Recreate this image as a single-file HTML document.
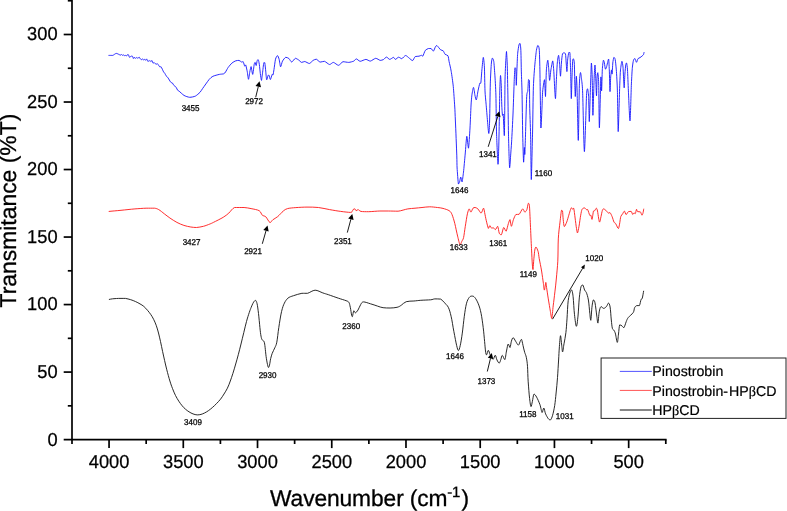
<!DOCTYPE html>
<html lang="en"><head><meta charset="utf-8"><title>FTIR spectra</title>
<style>html,body{margin:0;padding:0;background:#fff}body{width:787px;height:511px;overflow:hidden}svg{display:block}</style>
</head><body>
<svg width="787" height="511" viewBox="0 0 787 511">
<rect width="787" height="511" fill="#fff"/>
<g stroke="#000" stroke-width="1.7" fill="none" stroke-linecap="butt">
<path d="M72.00 0 V444.00"/>
<path d="M63.70 439.60 H666.59"/>
<path d="M63.70 372.08 H72.00"/>
<path d="M63.70 304.57 H72.00"/>
<path d="M63.70 237.05 H72.00"/>
<path d="M63.70 169.53 H72.00"/>
<path d="M63.70 102.02 H72.00"/>
<path d="M63.70 34.50 H72.00"/>
<path d="M67.80 405.84 H72.00"/>
<path d="M67.80 338.33 H72.00"/>
<path d="M67.80 270.81 H72.00"/>
<path d="M67.80 203.29 H72.00"/>
<path d="M67.80 135.78 H72.00"/>
<path d="M67.80 68.26 H72.00"/>
<path d="M67.80 0.74 H72.00"/>
<path d="M109.06 439.60 V448.10"/>
<path d="M183.29 439.60 V448.10"/>
<path d="M257.52 439.60 V448.10"/>
<path d="M331.75 439.60 V448.10"/>
<path d="M405.98 439.60 V448.10"/>
<path d="M480.21 439.60 V448.10"/>
<path d="M554.44 439.60 V448.10"/>
<path d="M628.67 439.60 V448.10"/>
<path d="M146.18 439.60 V444.00"/>
<path d="M220.41 439.60 V444.00"/>
<path d="M294.63 439.60 V444.00"/>
<path d="M368.87 439.60 V444.00"/>
<path d="M443.10 439.60 V444.00"/>
<path d="M517.33 439.60 V444.00"/>
<path d="M591.56 439.60 V444.00"/>
<path d="M665.79 439.60 V444.00"/>
</g>
<g font-family="'Liberation Sans', Arial, sans-serif" font-size="18.3" fill="#000" stroke="#000" stroke-width="0.25" text-rendering="geometricPrecision">
<text transform="translate(57.6 445.50) scale(1 1.02)" text-anchor="end">0</text>
<text transform="translate(57.6 377.98) scale(1 1.02)" text-anchor="end">50</text>
<text transform="translate(57.6 310.47) scale(1 1.02)" text-anchor="end">100</text>
<text transform="translate(57.6 242.95) scale(1 1.02)" text-anchor="end">150</text>
<text transform="translate(57.6 175.43) scale(1 1.02)" text-anchor="end">200</text>
<text transform="translate(57.6 107.92) scale(1 1.02)" text-anchor="end">250</text>
<text transform="translate(57.6 40.40) scale(1 1.02)" text-anchor="end">300</text>
<text transform="translate(109.1 468.25) scale(1 1.02)" text-anchor="middle">4000</text>
<text transform="translate(183.3 468.25) scale(1 1.02)" text-anchor="middle">3500</text>
<text transform="translate(257.5 468.25) scale(1 1.02)" text-anchor="middle">3000</text>
<text transform="translate(331.8 468.25) scale(1 1.02)" text-anchor="middle">2500</text>
<text transform="translate(406.0 468.25) scale(1 1.02)" text-anchor="middle">2000</text>
<text transform="translate(480.2 468.25) scale(1 1.02)" text-anchor="middle">1500</text>
<text transform="translate(554.4 468.25) scale(1 1.02)" text-anchor="middle">1000</text>
<text transform="translate(628.7 468.25) scale(1 1.02)" text-anchor="middle">500</text>
</g>
<g font-family="'Liberation Sans', Arial, sans-serif" fill="#000" stroke="#000" stroke-width="0.3" text-rendering="geometricPrecision">
<text x="270.0" y="506.1" font-size="22.8" letter-spacing="-0.11">Wavenumber (cm<tspan font-size="15" dy="-9.5" dx="-0.3">-1</tspan><tspan dy="9.5" dx="1.2">)</tspan></text>
<text transform="translate(16.0 307.5) rotate(-90)" font-size="22.9">Transmitance (%T)</text>
</g>
<g fill="none" stroke-width="0.92" stroke-linejoin="round" stroke-linecap="round">
<path stroke="#1818ff" d="M108.9 55.4 C109.4 55.4 111.8 55.4 112.7 55.4 C113.6 55.2 115.4 53.4 116.3 53.4 C117.2 53.4 119.8 55.0 120.4 55.1 C121.0 55.1 121.2 54.4 121.4 54.4 C121.6 54.5 122.2 55.3 122.4 55.3 C122.6 55.3 123.2 54.9 123.4 54.9 C123.6 55.0 124.2 55.6 124.4 55.6 C124.6 55.6 125.2 55.4 125.4 55.4 C125.6 55.4 126.2 56.0 126.4 56.0 C126.7 55.9 127.2 54.8 127.4 54.7 C127.7 54.7 128.2 54.7 128.5 54.8 C128.7 55.1 129.2 57.1 129.5 57.3 C129.7 57.3 130.3 56.7 130.5 56.6 C130.7 56.5 131.2 56.1 131.5 56.1 C131.7 56.1 132.2 56.1 132.4 56.2 C132.7 56.5 133.2 58.4 133.4 58.5 C133.6 58.5 134.1 57.2 134.3 57.2 C134.6 57.2 135.1 58.3 135.3 58.4 C135.5 58.4 136.0 57.5 136.3 57.5 C136.5 57.5 137.0 58.1 137.2 58.1 C137.5 58.1 138.0 58.0 138.2 57.9 C138.4 57.8 139.0 57.2 139.2 57.2 C139.5 57.3 140.0 58.5 140.3 58.8 C140.6 59.1 141.1 59.7 141.3 59.7 C141.6 59.7 142.1 59.0 142.4 59.0 C142.7 59.0 143.2 59.8 143.4 59.8 C143.7 59.8 144.2 59.4 144.5 59.4 C144.8 59.4 145.3 60.2 145.6 60.2 C145.8 60.2 146.4 58.9 146.6 58.9 C146.9 59.0 147.4 60.9 147.7 61.2 C148.0 61.2 148.5 61.1 148.8 61.1 C149.0 61.0 149.6 60.6 149.8 60.6 C150.1 60.6 150.6 61.5 150.9 61.5 C151.2 61.5 151.7 60.5 152.0 60.5 C152.2 60.7 152.8 63.0 153.0 63.2 C153.3 63.2 153.8 62.5 154.1 62.5 C154.4 62.5 154.9 63.3 155.2 63.5 C155.4 63.7 156.0 64.3 156.2 64.3 C156.5 64.3 157.0 63.6 157.3 63.6 C157.6 63.7 158.3 64.9 158.6 65.3 C158.9 65.7 159.5 66.7 159.8 66.9 C160.1 66.9 160.6 66.8 161.1 66.8 C161.6 67.4 163.1 71.1 163.6 71.9 C164.1 72.7 164.6 73.0 164.9 73.5 C165.2 74.0 165.8 75.4 166.1 75.8 C166.5 76.2 167.1 76.7 167.4 77.1 C167.7 77.4 168.4 78.4 168.7 78.9 C169.0 79.4 169.7 80.7 170.0 81.1 C170.3 81.6 170.9 82.4 171.2 82.6 C171.6 82.9 172.2 82.8 172.5 83.1 C172.8 83.5 173.5 84.9 173.8 85.3 C174.1 85.7 174.8 85.9 175.1 86.2 C175.4 86.5 176.0 87.3 176.4 87.8 C176.7 88.2 177.3 89.8 177.6 90.2 C177.9 90.6 178.1 90.4 178.9 91.0 C179.7 91.6 182.7 94.6 184.0 95.4 C185.3 96.2 188.3 97.2 189.7 97.3 C191.1 97.3 194.2 96.7 195.4 96.1 C196.6 95.5 199.1 93.2 200.0 92.3 C200.9 91.4 201.6 89.9 202.7 88.4 C203.8 86.9 207.9 81.0 209.1 79.5 C210.3 78.0 211.7 76.9 212.9 76.3 C214.1 75.7 218.0 74.7 219.3 74.4 C220.6 74.1 222.9 74.1 223.7 73.8 C224.5 73.5 225.1 72.7 225.6 71.9 C226.1 71.1 227.4 68.5 228.2 67.4 C229.0 66.3 231.1 63.8 232.0 63.0 C232.9 62.2 235.0 61.1 235.8 60.8 C236.6 60.5 238.3 60.4 239.0 60.4 C239.7 60.5 241.0 61.8 241.5 62.0 C242.0 62.0 242.8 61.7 243.2 61.7 C243.6 62.2 244.4 65.8 244.7 66.2 C245.0 66.2 245.4 64.9 245.7 64.9 C246.0 65.6 247.0 70.2 247.3 71.9 C247.6 73.6 248.2 79.3 248.5 79.3 C248.8 79.3 249.5 73.4 249.8 71.9 C250.1 70.4 250.8 66.6 251.1 66.6 C251.4 66.9 252.3 74.4 252.7 74.4 C253.1 74.1 253.9 65.7 254.2 64.3 C254.5 62.9 254.9 62.4 255.1 62.4 C255.3 62.5 255.9 65.5 256.2 65.5 C256.5 65.3 256.9 61.1 257.2 60.4 C257.5 59.8 258.0 59.8 258.3 59.8 C258.6 60.3 259.0 62.4 259.3 64.3 C259.6 66.2 260.3 73.8 260.6 75.7 C260.9 77.6 261.3 80.4 261.5 80.4 C261.7 80.1 262.2 75.3 262.5 73.2 C262.8 71.1 263.5 64.0 263.8 62.7 C264.1 62.7 264.6 62.7 264.8 62.7 C265.0 63.8 265.6 69.8 265.8 71.9 C266.0 74.0 266.4 79.3 266.7 79.8 C267.0 79.8 267.6 76.3 267.9 75.7 C268.2 75.1 268.6 75.1 268.9 75.1 C269.2 75.6 270.0 79.5 270.4 79.5 C270.8 79.4 271.8 74.9 272.1 74.4 C272.4 74.4 272.8 75.1 273.0 75.1 C273.2 74.5 273.7 71.3 274.0 69.4 C274.3 67.5 275.1 60.9 275.5 59.2 C275.9 57.5 277.1 55.6 277.5 55.6 C277.9 55.6 278.7 57.9 279.1 59.2 C279.5 60.5 280.2 66.6 280.6 66.8 C281.0 66.8 281.9 62.2 282.5 61.1 C283.1 60.0 284.9 57.6 285.7 57.3 C286.5 57.3 288.2 57.9 288.9 58.5 C289.6 59.1 290.9 62.0 291.7 62.0 C292.5 62.0 294.5 58.6 295.3 58.3 C296.1 58.3 297.6 59.3 298.4 59.8 C299.2 60.3 300.8 62.2 301.6 62.4 C302.4 62.4 303.9 61.5 304.8 61.5 C305.7 61.6 308.3 63.5 309.3 63.5 C310.3 63.4 312.3 60.9 313.1 60.4 C313.9 59.9 315.5 59.2 316.3 59.2 C317.1 59.4 319.1 61.8 320.1 62.1 C321.1 62.1 323.4 61.3 324.5 61.3 C325.6 61.6 328.5 64.4 329.6 64.5 C330.7 64.5 332.3 62.4 333.4 62.4 C334.5 62.5 337.3 65.3 338.5 65.3 C339.7 65.2 341.8 62.0 343.0 61.7 C344.2 61.7 347.4 62.4 348.7 62.4 C350.0 62.3 352.9 61.5 353.8 61.1 C354.7 60.7 355.5 58.9 356.3 58.9 C357.1 58.9 359.0 61.2 360.2 61.3 C361.4 61.3 364.7 59.4 365.9 59.4 C367.1 59.4 369.1 61.1 370.3 61.1 C371.5 61.0 374.5 58.4 375.7 58.3 C376.9 58.3 379.3 60.2 380.2 60.4 C381.1 60.4 382.6 60.0 383.4 59.6 C384.2 59.2 385.7 57.1 386.5 57.1 C387.3 57.1 388.9 59.4 389.7 59.4 C390.5 59.4 392.8 57.4 393.5 57.4 C394.2 57.4 394.8 59.4 395.4 59.4 C396.0 59.4 397.8 57.3 398.6 57.2 C399.4 57.2 401.0 58.7 401.8 58.7 C402.6 58.5 404.7 55.5 405.6 55.5 C406.5 55.5 408.6 57.7 409.4 58.3 C410.2 58.9 411.9 60.6 412.6 60.6 C413.3 60.4 414.4 57.1 415.2 56.6 C416.0 56.2 418.2 56.4 419.0 56.2 C419.8 56.0 421.0 55.3 421.5 55.3 C422.0 55.3 422.3 56.2 422.8 56.2 C423.3 55.6 424.6 51.3 425.3 50.4 C426.0 49.5 427.8 48.7 428.5 48.5 C429.2 48.5 430.5 48.5 431.1 48.5 C431.7 48.8 432.9 51.1 433.4 51.1 C433.9 50.9 435.1 47.3 435.5 46.6 C435.9 45.9 436.4 45.6 437.0 45.6 C437.6 46.0 439.9 49.2 440.6 49.8 C441.3 50.4 442.7 50.3 443.2 50.8 C443.7 51.3 444.5 53.7 445.1 54.3 C445.7 54.9 447.5 54.9 448.0 55.8 C448.5 56.7 448.7 59.7 449.1 61.6 C449.5 63.5 450.7 68.3 451.2 71.3 C451.7 74.3 452.9 82.5 453.3 86.7 C453.7 90.9 454.4 101.9 454.7 106.0 C455.0 110.1 455.1 115.0 455.4 121.0 C455.7 127.0 456.6 150.3 456.8 155.9 C457.0 161.5 456.9 164.6 457.1 168.0 C457.3 171.4 458.1 182.3 458.4 184.0 C458.7 184.0 459.3 182.7 459.6 181.9 C459.9 181.1 460.4 177.0 460.7 177.0 C461.0 177.0 461.8 181.9 462.1 181.9 C462.4 181.3 463.1 175.4 463.5 172.1 C463.9 168.8 464.8 158.3 465.2 154.0 C465.6 149.7 466.4 137.0 466.8 136.3 C467.2 136.3 468.1 148.2 468.5 148.2 C468.9 147.2 469.7 133.1 470.0 128.0 C470.3 122.9 470.8 109.9 471.0 106.0 C471.2 102.1 471.6 97.3 471.9 95.1 C472.2 92.9 473.1 87.4 473.5 87.4 C473.9 87.4 474.6 93.6 474.9 95.1 C475.2 96.6 475.9 100.0 476.3 100.0 C476.7 99.5 477.6 92.9 478.0 90.9 C478.4 88.9 479.5 84.1 479.8 83.2 C480.1 83.2 480.5 83.2 480.8 83.2 C481.1 81.6 481.6 73.0 481.9 69.9 C482.2 66.8 483.0 57.7 483.3 57.4 C483.6 57.4 484.2 63.1 484.4 67.1 C484.6 71.1 484.8 86.4 485.0 90.9 C485.2 95.4 485.8 100.6 486.1 104.2 C486.4 107.8 487.2 117.5 487.5 121.0 C487.8 124.5 488.5 133.5 488.8 133.5 C489.1 133.5 489.4 127.0 489.6 121.0 C489.8 115.0 490.1 90.9 490.3 83.9 C490.5 76.9 491.1 66.1 491.4 63.0 C491.7 59.9 492.1 58.3 492.4 58.1 C492.7 58.1 493.5 59.7 493.8 61.6 C494.1 63.5 494.5 70.1 494.8 74.1 C495.1 78.1 495.7 87.8 495.9 95.1 C496.1 102.4 496.3 126.6 496.6 134.9 C496.9 143.2 497.7 162.6 498.0 164.3 C498.3 164.3 498.5 154.9 498.7 148.9 C498.9 142.9 499.3 121.0 499.4 114.0 C499.5 107.0 499.7 95.5 499.8 90.9 C499.9 86.3 500.3 76.3 500.5 75.5 C500.7 75.5 501.0 80.2 501.2 83.9 C501.4 87.6 501.6 102.2 501.8 106.0 C502.0 109.8 502.3 114.4 502.5 115.4 C502.7 115.4 503.0 114.0 503.2 114.0 C503.4 116.4 504.1 135.6 504.3 135.6 C504.5 135.6 504.6 121.0 504.7 114.0 C504.8 107.0 504.9 83.7 505.1 76.9 C505.3 70.1 505.8 60.4 506.0 57.4 C506.2 54.4 506.4 51.5 506.5 51.5 C506.6 52.2 507.0 58.3 507.2 63.0 C507.4 67.7 507.6 82.3 507.8 90.9 C508.0 99.5 508.3 125.7 508.5 134.9 C508.7 144.1 509.3 165.3 509.6 167.8 C509.9 167.8 510.4 159.0 510.6 155.9 C510.8 152.8 511.3 146.9 511.6 141.9 C511.9 136.9 512.7 121.0 513.0 114.0 C513.3 107.0 513.9 89.4 514.1 83.9 C514.3 78.4 514.7 69.6 514.9 67.8 C515.1 67.8 515.6 67.8 515.8 68.5 C516.0 70.6 516.2 85.1 516.3 85.3 C516.4 85.3 516.7 73.8 516.9 69.9 C517.1 66.0 517.4 56.2 517.7 53.2 C518.0 50.2 518.7 46.0 519.0 44.8 C519.3 43.6 519.8 43.4 520.0 43.4 C520.2 43.9 520.6 45.8 520.8 49.0 C521.0 52.2 521.2 64.9 521.3 69.9 C521.4 74.9 521.8 83.1 522.0 90.9 C522.2 98.7 522.5 126.3 522.7 134.9 C522.9 143.5 523.4 160.7 523.6 162.2 C523.8 162.2 524.3 148.4 524.4 147.5 C524.5 147.5 524.7 154.5 524.8 154.5 C524.9 153.0 525.3 141.9 525.5 134.9 C525.7 127.9 526.4 101.8 526.7 96.5 C527.0 91.2 527.6 92.9 527.8 90.9 C528.0 88.9 528.3 81.0 528.5 79.7 C528.7 79.7 529.3 79.7 529.4 80.4 C529.5 83.6 529.6 99.5 529.7 106.0 C529.8 112.5 530.4 126.1 530.6 134.9 C530.8 143.7 531.1 179.6 531.3 179.6 C531.5 179.6 532.2 146.0 532.5 134.9 C532.8 123.8 533.1 95.3 533.4 86.7 C533.7 78.1 534.6 67.4 535.0 63.0 C535.4 58.6 536.1 52.5 536.4 50.4 C536.7 48.3 537.5 45.7 537.8 45.5 C538.1 45.5 538.9 46.1 539.2 49.0 C539.5 51.9 539.7 60.4 539.9 69.9 C540.1 79.4 540.6 123.5 540.9 128.0 C541.2 128.0 541.8 111.5 542.0 107.0 C542.2 102.5 542.4 94.2 542.7 90.9 C543.0 87.6 544.2 79.7 544.5 79.7 C544.8 80.4 545.3 96.5 545.5 96.5 C545.7 95.3 546.1 74.3 546.4 69.9 C546.7 65.5 547.5 60.2 547.8 60.2 C548.1 60.2 548.6 67.5 548.8 69.9 C549.0 72.3 549.3 80.4 549.6 80.4 C549.9 80.4 550.5 72.2 550.9 69.9 C551.3 67.6 552.4 60.9 552.7 60.9 C553.0 60.9 553.4 66.3 553.7 69.9 C554.0 73.5 554.6 87.5 554.8 90.9 C555.0 94.3 555.3 98.6 555.5 98.6 C555.7 97.8 556.0 88.2 556.2 83.9 C556.4 79.6 557.0 66.4 557.3 63.0 C557.6 59.6 558.3 55.3 558.6 55.3 C558.9 55.6 559.5 63.2 559.7 65.7 C559.9 68.2 560.3 76.2 560.5 76.2 C560.7 75.9 561.2 65.7 561.4 63.0 C561.6 60.3 562.2 55.1 562.5 53.9 C562.8 52.9 563.5 52.9 563.9 52.9 C564.3 52.9 565.2 52.9 565.5 53.9 C565.8 55.1 566.0 60.9 566.2 63.0 C566.4 65.1 566.7 71.6 566.9 71.6 C567.1 71.3 567.4 62.5 567.6 60.2 C567.8 57.9 568.5 53.4 568.8 52.5 C569.1 52.5 569.7 52.5 569.9 52.5 C570.1 54.6 570.4 64.4 570.6 69.9 C570.8 75.4 571.1 97.8 571.3 98.6 C571.5 98.6 571.8 81.5 572.0 76.9 C572.2 72.3 572.5 62.4 572.7 60.2 C572.9 58.8 573.2 58.8 573.4 58.8 C573.6 59.1 574.1 60.0 574.3 63.0 C574.5 66.0 574.7 79.9 574.8 83.9 C574.9 87.9 575.2 96.5 575.3 96.5 C575.4 96.5 575.8 86.3 575.9 83.9 C576.0 81.5 576.3 76.2 576.4 76.2 C576.5 77.0 576.9 83.2 577.1 90.9 C577.3 98.6 578.0 140.4 578.3 140.4 C578.6 139.6 579.1 92.0 579.4 83.9 C579.7 75.8 580.2 73.0 580.5 72.5 C580.8 72.5 581.3 77.2 581.6 79.7 C581.9 82.2 582.4 85.1 582.7 93.7 C583.0 102.3 583.9 151.6 584.4 151.6 C584.9 151.6 586.2 101.2 586.6 93.7 C587.0 88.8 587.4 88.8 587.6 88.8 C587.8 89.1 588.4 92.6 588.6 96.5 C588.8 100.4 589.1 121.6 589.3 121.6 C589.5 120.1 590.3 90.9 590.6 83.9 C590.9 76.9 591.2 63.8 591.4 63.0 C591.6 63.0 592.0 70.6 592.2 76.9 C592.4 83.2 592.7 115.3 592.9 115.3 C593.1 115.3 593.9 82.9 594.2 76.9 C594.5 70.9 594.8 65.0 595.0 65.0 C595.2 65.0 595.5 73.2 595.7 76.9 C595.9 80.6 596.3 95.8 596.5 95.8 C596.7 95.8 596.9 79.7 597.1 76.9 C597.3 74.1 597.6 72.7 597.8 72.7 C598.0 73.5 598.5 77.3 598.7 83.9 C598.9 90.5 599.1 127.8 599.4 127.8 C599.7 127.0 600.6 81.3 600.9 76.9 C601.2 76.9 601.4 90.9 601.6 90.9 C601.8 90.1 602.1 73.6 602.3 69.9 C602.5 66.2 603.1 61.0 603.4 60.2 C603.7 60.2 604.2 61.9 604.4 63.0 C604.6 64.1 605.1 68.7 605.4 69.2 C605.7 69.2 606.1 68.3 606.5 67.1 C606.9 65.9 608.3 59.0 608.6 59.0 C608.9 59.3 609.1 66.0 609.3 69.9 C609.5 73.8 609.8 90.8 610.0 91.6 C610.2 91.6 610.5 79.5 610.7 76.9 C610.9 74.3 611.3 70.2 611.5 69.9 C611.7 69.9 611.9 74.1 612.1 74.1 C612.3 73.3 612.6 65.0 612.8 63.0 C613.0 61.0 613.6 57.8 613.9 57.4 C614.2 57.4 614.9 58.0 615.2 59.5 C615.5 61.0 616.0 66.1 616.3 69.9 C616.6 73.7 617.2 83.5 617.4 90.9 C617.6 98.3 618.0 129.8 618.2 131.6 C618.4 131.6 618.9 111.7 619.1 106.0 C619.3 100.3 619.6 88.2 619.8 83.9 C620.0 79.6 620.2 72.6 620.5 69.9 C620.8 67.2 621.6 61.6 621.9 61.3 C622.2 61.3 622.8 64.7 623.0 67.1 C623.2 69.5 623.6 78.6 623.7 81.1 C623.8 83.6 624.1 87.8 624.2 87.8 C624.3 87.0 624.7 76.9 624.9 74.1 C625.1 71.3 625.6 65.7 625.8 64.4 C626.0 63.1 626.4 63.0 626.6 63.0 C626.8 63.7 627.3 66.6 627.5 69.9 C627.7 73.2 628.1 84.8 628.4 90.9 C628.7 97.0 629.6 120.9 630.0 120.9 C630.4 120.1 631.1 90.4 631.4 83.9 C631.7 77.4 632.1 69.9 632.4 67.1 C632.7 64.3 633.2 61.2 633.5 60.2 C633.8 59.2 634.5 58.5 634.9 58.5 C635.3 58.8 636.1 62.3 636.5 62.3 C636.9 62.3 637.5 59.4 637.9 58.8 C638.3 58.2 639.5 57.9 640.0 57.6 C640.5 57.3 641.7 56.4 642.1 56.0 C642.5 55.6 643.3 55.0 643.5 54.6 C643.7 54.2 643.9 52.8 644.0 52.5"/>
<path stroke="#ff1a1a" d="M109.1 211.4 C110.9 211.2 117.1 210.7 121.0 210.3 C124.9 209.9 131.1 209.2 134.9 208.9 C138.7 208.6 143.2 208.3 146.1 208.2 C149.0 208.2 152.6 208.2 154.5 208.2 C156.4 208.4 157.2 208.8 158.7 209.6 C160.2 210.4 162.6 212.5 164.3 213.8 C166.0 215.1 168.0 216.7 169.9 218.0 C171.8 219.3 174.8 221.3 176.9 222.4 C179.0 223.5 181.8 224.7 183.9 225.4 C186.0 226.1 188.9 226.7 190.8 227.0 C192.7 227.3 194.5 227.5 196.4 227.5 C198.3 227.4 201.4 226.8 203.4 226.3 C205.4 225.8 208.4 224.6 209.9 224.0 C211.4 223.4 211.4 223.4 213.4 222.4 C215.4 221.4 220.9 218.7 223.2 217.3 C225.5 215.9 227.1 214.6 228.8 213.1 C230.5 211.6 232.3 208.3 234.6 207.5 C236.9 207.5 241.6 207.5 244.1 207.5 C246.6 207.7 248.8 208.1 251.1 208.6 C253.4 209.1 257.5 209.7 259.2 210.7 C260.9 211.7 261.3 214.3 262.3 215.2 C263.3 216.1 264.6 215.7 265.8 216.8 C267.0 217.9 268.9 222.2 270.0 222.6 C271.1 222.6 271.6 220.7 272.8 219.8 C274.0 218.9 276.1 217.9 277.7 216.6 C279.3 215.3 281.8 212.2 283.3 211.0 C284.8 209.8 285.6 209.1 287.5 208.6 C289.4 208.1 292.9 207.8 295.8 207.6 C298.7 207.4 303.6 207.1 307.0 207.1 C310.4 207.1 315.0 207.1 318.4 207.5 C321.8 207.9 326.3 209.0 329.6 209.6 C332.9 210.2 337.6 211.0 340.7 211.4 C343.8 211.8 348.8 212.4 350.5 212.4 C352.2 212.4 351.4 212.2 351.9 211.7 C352.4 211.2 353.1 209.5 353.6 209.1 C354.1 208.9 354.6 208.9 355.0 208.9 C355.4 209.1 355.6 210.6 356.1 210.7 C356.6 210.7 357.5 209.6 358.2 209.6 C358.9 209.7 359.4 211.1 361.0 211.4 C362.6 211.7 365.9 211.7 368.7 211.7 C371.5 211.6 377.0 211.1 379.9 211.0 C382.8 211.0 385.6 211.0 388.3 211.0 C391.0 211.0 395.2 211.2 398.1 211.2 C401.0 210.9 405.3 209.3 407.8 208.9 C410.3 208.5 412.9 208.4 415.0 208.2 C417.1 208.0 419.8 207.7 422.0 207.5 C424.2 207.3 427.4 206.8 429.7 206.8 C432.0 206.8 435.4 207.3 437.4 207.5 C439.4 207.7 441.2 207.9 443.0 208.4 C444.8 208.9 447.8 209.8 449.2 210.7 C450.6 211.6 451.2 212.6 452.0 214.5 C452.8 216.4 454.0 220.3 454.8 223.5 C455.6 226.7 456.8 232.9 457.6 236.1 C458.4 239.3 459.4 244.0 460.0 244.8 C460.6 244.8 461.3 242.5 461.8 241.4 C462.3 240.3 463.1 239.8 463.6 237.5 C464.1 235.2 464.7 229.9 465.3 226.3 C465.9 222.7 466.8 216.4 467.4 213.8 C468.0 211.2 468.7 209.2 469.2 208.9 C469.7 208.9 470.3 212.1 470.9 212.1 C471.5 212.0 472.4 208.9 473.0 208.2 C473.6 207.5 474.4 207.5 475.1 207.5 C475.8 207.6 477.0 208.1 477.9 208.9 C478.8 209.7 480.3 213.1 481.1 213.1 C481.9 213.0 483.0 208.3 483.5 208.2 C484.0 208.2 484.2 210.5 484.6 212.4 C485.0 214.3 485.7 218.3 486.3 220.7 C486.9 223.1 487.9 227.7 488.4 228.4 C488.9 228.4 489.3 225.6 489.8 225.6 C490.3 225.6 491.1 227.9 491.6 228.2 C492.1 228.2 492.7 227.7 493.3 227.7 C493.9 227.9 494.7 229.6 495.4 229.6 C496.1 229.4 497.1 226.3 497.7 226.3 C498.3 226.9 498.7 232.0 499.3 233.3 C499.9 234.6 500.7 234.7 501.4 234.7 C502.1 233.8 503.0 228.0 503.7 227.5 C504.4 227.5 505.4 231.2 506.1 231.2 C506.8 230.6 507.8 225.2 508.4 223.5 C509.0 221.8 509.6 219.6 510.0 219.6 C510.4 220.0 510.9 226.3 511.4 226.3 C511.9 226.3 512.8 221.2 513.5 219.4 C514.2 217.6 515.1 215.3 515.9 214.5 C516.7 214.3 518.1 214.5 519.1 214.3 C520.1 213.5 521.8 209.2 522.7 208.9 C523.6 208.9 524.2 212.0 524.8 212.1 C525.4 212.1 526.4 210.9 526.9 209.6 C527.4 208.3 527.9 203.9 528.3 203.3 C528.7 203.3 529.1 203.3 529.4 205.4 C529.7 208.6 530.1 218.4 530.4 224.9 C530.7 231.4 531.2 242.8 531.5 248.7 C531.8 254.6 532.1 260.9 532.3 264.0 C532.5 267.1 532.8 269.6 533.0 269.6 C533.2 268.8 533.6 261.3 533.9 258.4 C534.2 255.5 534.5 251.8 534.8 250.1 C535.1 248.4 535.5 247.0 536.0 247.0 C536.5 247.2 537.6 249.8 538.1 251.5 C538.6 253.2 538.7 255.5 539.2 258.4 C539.7 261.3 541.0 267.2 541.6 271.0 C542.2 274.8 543.0 280.6 543.4 283.5 C543.8 286.4 544.0 290.1 544.4 290.1 C544.8 289.9 545.5 282.8 545.8 282.4 C546.1 282.4 546.2 285.2 546.6 287.7 C547.0 290.2 547.7 295.3 548.3 298.9 C548.9 302.5 549.9 308.6 550.4 311.5 C550.9 314.4 551.4 318.5 551.8 318.5 C552.2 317.7 552.7 309.9 553.2 305.9 C553.7 301.9 554.4 296.1 554.9 291.9 C555.4 287.7 556.0 282.6 556.4 278.0 C556.8 273.4 557.5 267.1 557.8 261.2 C558.1 255.3 558.0 244.8 558.3 238.9 C558.6 233.0 559.5 226.4 560.0 222.1 C560.5 217.8 561.1 212.0 561.5 210.3 C561.9 210.3 562.2 210.3 562.5 211.0 C562.8 212.4 562.9 217.1 563.2 219.4 C563.5 221.7 563.8 226.2 564.3 226.6 C564.8 226.6 566.0 223.8 566.7 222.1 C567.4 220.4 568.2 217.1 568.8 215.2 C569.4 213.3 570.1 210.7 570.5 209.6 C570.9 208.5 571.3 207.7 571.6 207.7 C571.9 207.7 572.3 209.2 572.6 209.3 C572.9 209.3 573.3 208.2 573.7 208.2 C574.1 209.5 574.7 215.0 575.1 218.0 C575.5 221.0 576.1 226.2 576.5 228.4 C576.9 230.6 577.1 232.9 577.5 232.9 C577.9 232.6 578.5 229.0 579.0 226.3 C579.5 223.6 580.2 217.8 580.7 215.2 C581.2 212.6 581.5 210.4 582.1 209.3 C582.7 208.2 583.9 207.9 584.5 207.9 C585.1 207.9 585.8 209.3 586.3 209.6 C586.8 209.6 587.2 209.6 587.7 209.6 C588.2 210.5 589.3 214.6 589.8 215.4 C590.3 215.4 590.6 215.2 590.9 215.2 C591.2 215.8 591.6 219.4 592.0 219.4 C592.4 218.8 593.1 212.3 593.5 211.0 C593.9 210.7 594.3 211.0 594.7 210.7 C595.1 210.3 595.9 208.2 596.3 208.2 C596.7 208.2 597.2 209.5 597.5 211.0 C597.8 212.5 598.3 216.3 598.6 218.0 C598.9 219.7 599.2 222.1 599.6 222.1 C600.0 221.9 600.6 218.4 601.0 216.6 C601.4 214.8 602.0 211.5 602.4 210.3 C602.8 209.1 603.2 208.9 603.7 208.9 C604.2 208.9 605.1 209.7 605.8 210.3 C606.5 210.9 607.8 212.8 608.4 213.1 C609.0 213.1 609.4 212.6 610.0 212.6 C610.6 213.1 611.5 215.2 612.1 216.6 C612.7 218.0 613.5 221.1 614.0 222.1 C614.5 223.1 615.1 222.8 615.6 223.5 C616.1 224.2 616.9 226.2 617.3 227.0 C617.7 227.8 618.1 228.5 618.5 228.5 C618.9 227.8 619.5 224.4 619.8 222.6 C620.1 220.8 620.4 217.8 620.8 216.5 C621.2 215.2 622.1 214.7 622.6 213.9 C623.1 213.1 623.9 211.1 624.4 211.1 C624.9 211.2 625.5 214.5 626.1 214.6 C626.7 214.6 627.7 212.1 628.5 211.6 C629.3 211.4 630.6 211.4 631.2 211.4 C631.8 211.8 632.3 214.2 632.7 214.4 C633.1 214.4 633.6 213.0 634.0 212.9 C634.4 212.9 634.9 213.6 635.3 213.6 C635.7 213.1 636.2 209.6 636.5 209.3 C636.8 209.3 637.0 211.2 637.6 211.6 C638.2 211.9 639.8 211.6 640.4 211.9 C641.0 212.4 641.5 215.0 641.9 215.2 C642.3 215.2 642.6 214.3 642.9 213.4 C643.2 212.5 643.6 209.7 643.7 209.1"/>
<path stroke="#111" stroke-width="0.9" d="M109.3 299.4 C109.8 299.3 111.3 299.0 112.5 298.8 C113.7 298.6 115.0 298.6 116.4 298.5 C117.8 298.4 119.5 298.4 121.0 298.4 C122.5 298.4 123.8 298.4 125.4 298.4 C127.0 298.6 129.0 299.2 130.7 299.7 C132.4 300.2 134.0 300.9 135.6 301.6 C137.2 302.3 138.6 303.1 140.0 303.9 C141.4 304.7 142.5 305.3 143.8 306.4 C145.1 307.5 146.3 308.9 147.5 310.3 C148.7 311.7 149.7 312.9 150.7 314.4 C151.7 315.9 152.7 317.4 153.6 319.3 C154.5 321.2 155.4 323.0 156.2 325.3 C157.0 327.6 157.8 330.2 158.5 333.0 C159.2 335.8 159.8 338.4 160.5 341.5 C161.2 344.6 161.9 348.3 162.6 351.5 C163.3 354.7 163.9 357.4 164.6 360.5 C165.3 363.6 165.9 366.3 166.8 369.8 C167.7 373.3 168.9 377.8 169.9 381.0 C170.9 384.2 171.5 386.0 172.5 388.5 C173.5 391.0 174.4 393.3 175.5 395.5 C176.6 397.7 177.7 399.4 178.8 401.2 C179.9 403.0 181.1 404.4 182.2 405.8 C183.3 407.2 184.3 408.2 185.5 409.2 C186.7 410.2 187.7 411.0 189.0 411.8 C190.3 412.6 191.6 413.4 193.0 413.9 C194.4 414.4 195.8 414.8 197.2 414.9 C198.6 414.9 199.8 414.7 201.0 414.4 C202.2 414.1 203.2 413.6 204.5 413.0 C205.8 412.4 207.2 411.5 208.5 410.6 C209.8 409.7 210.9 408.8 212.3 407.6 C213.7 406.4 215.1 405.0 216.5 403.6 C217.9 402.2 219.2 400.8 220.5 399.2 C221.8 397.6 222.8 395.9 224.0 394.0 C225.2 392.1 226.3 390.4 227.4 388.2 C228.5 386.0 229.4 383.5 230.3 381.0 C231.2 378.5 232.0 376.3 232.9 373.4 C233.8 370.5 234.8 367.2 235.7 364.0 C236.6 360.8 237.5 357.7 238.4 354.3 C239.3 350.9 240.1 347.7 241.0 344.0 C241.9 340.3 242.9 336.3 243.8 332.5 C244.7 328.7 245.6 324.9 246.5 321.5 C247.4 318.1 248.5 314.8 249.3 312.4 C250.1 310.0 250.6 308.8 251.2 307.3 C251.8 305.8 252.4 304.4 252.9 303.4 C253.4 302.4 253.9 301.7 254.3 301.2 C254.7 300.7 255.0 300.3 255.5 300.3 C256.0 300.7 256.6 301.6 257.1 303.8 C257.6 306.0 258.0 309.5 258.5 313.5 C259.0 317.5 259.5 323.7 259.9 327.5 C260.3 331.3 260.6 334.0 261.0 336.1 C261.4 338.2 261.6 338.7 262.1 339.7 C262.6 340.7 263.6 340.4 264.1 341.7 C264.6 343.0 264.8 344.8 265.1 347.3 C265.4 349.8 265.7 353.6 266.1 356.5 C266.5 359.4 267.1 362.7 267.5 364.6 C267.9 366.5 268.2 367.4 268.5 367.5 C268.8 367.5 269.1 366.6 269.5 365.1 C269.9 363.6 270.2 360.5 270.7 358.5 C271.2 356.5 271.5 355.2 272.2 353.4 C272.9 351.6 274.0 349.7 274.8 347.8 C275.6 345.9 276.1 345.7 276.8 342.2 C277.5 338.7 278.0 332.7 278.8 327.5 C279.6 322.3 280.6 315.5 281.6 311.4 C282.6 307.3 283.3 305.3 284.4 303.1 C285.5 300.9 286.4 299.5 287.9 298.2 C289.4 296.9 291.1 296.5 293.5 295.7 C295.9 294.9 299.5 293.7 301.9 293.3 C304.3 293.3 305.3 293.3 307.5 293.3 C309.7 292.8 312.5 290.3 315.1 290.2 C317.7 290.2 320.5 292.1 322.8 292.9 C325.1 293.7 325.7 293.8 328.4 294.7 C331.1 295.6 335.4 297.2 338.4 298.2 C341.4 299.2 344.3 300.0 346.1 300.7 C347.9 301.4 348.2 301.3 348.9 302.4 C349.6 303.5 349.8 305.1 350.3 307.3 C350.8 309.5 351.3 314.0 351.7 315.6 C352.1 316.6 352.0 316.6 352.4 316.6 C352.8 315.8 353.3 311.3 353.8 310.7 C354.3 310.7 354.7 312.8 355.4 312.8 C356.1 312.7 357.1 311.4 358.0 310.0 C358.9 308.6 359.8 305.9 360.7 304.5 C361.6 303.1 361.8 302.0 363.5 301.9 C365.2 301.9 368.1 303.1 370.5 303.8 C372.9 304.5 375.4 305.4 377.5 306.1 C379.6 306.8 381.0 307.4 383.1 307.7 C385.2 308.0 387.7 308.0 390.1 308.0 C392.5 307.9 395.2 307.8 397.1 307.3 C399.0 306.8 399.8 306.2 401.3 305.2 C402.8 304.2 404.1 302.4 406.2 301.7 C408.3 301.0 411.4 301.2 413.9 301.0 C416.4 300.8 418.0 300.5 420.8 300.3 C423.6 300.1 428.2 300.0 430.6 299.8 C433.0 299.6 433.1 299.0 434.8 298.9 C436.5 298.9 439.0 298.9 440.6 299.1 C442.2 299.7 442.8 301.0 444.1 302.4 C445.4 303.8 447.1 304.9 448.3 307.3 C449.5 309.7 450.1 312.2 451.1 316.3 C452.1 320.4 452.9 326.7 453.9 331.7 C454.9 336.7 455.9 342.5 456.7 345.7 C457.5 348.9 457.8 350.5 458.4 350.5 C459.0 350.5 459.5 348.7 460.2 345.7 C460.9 342.7 461.6 338.1 462.3 333.1 C463.0 328.1 463.6 321.3 464.3 316.3 C465.0 311.3 465.6 307.0 466.4 303.8 C467.2 300.6 468.2 298.8 469.2 297.5 C470.2 296.2 471.0 296.1 472.0 296.1 C473.0 296.1 473.7 296.2 474.8 297.5 C475.9 298.8 477.2 301.1 478.3 303.8 C479.4 306.5 480.3 309.5 481.1 313.5 C481.9 317.5 482.6 322.7 483.2 327.5 C483.8 332.3 484.2 337.5 484.6 341.5 C485.0 345.5 485.2 348.7 485.5 351.0 C485.8 353.3 486.0 354.9 486.5 354.9 C487.0 354.8 487.7 350.4 488.3 350.3 C488.9 350.3 489.5 353.4 490.0 354.5 C490.5 355.6 491.0 356.2 491.5 357.0 C492.0 357.8 492.6 359.3 493.2 359.3 C493.8 359.0 494.7 355.2 495.3 355.2 C495.9 355.3 496.3 358.7 497.0 360.0 C497.7 361.3 498.5 363.1 499.2 363.1 C499.9 363.0 500.4 360.6 500.9 359.3 C501.4 358.0 501.6 355.4 502.3 355.4 C503.0 355.5 504.1 359.6 504.8 359.6 C505.5 358.9 505.9 353.7 506.5 351.0 C507.1 348.3 507.6 344.6 508.2 344.0 C508.8 344.0 509.5 347.5 510.0 347.5 C510.5 347.0 510.9 342.9 511.4 341.2 C511.9 339.5 512.5 337.7 513.2 337.7 C513.9 337.7 514.7 339.9 515.6 341.2 C516.5 342.5 517.6 345.1 518.4 345.1 C519.2 345.0 520.0 341.5 520.5 340.5 C521.0 339.5 521.2 339.5 521.6 339.5 C522.0 340.3 522.5 343.2 523.0 345.4 C523.5 347.6 524.1 350.4 524.7 352.4 C525.3 354.4 525.8 354.9 526.3 357.3 C526.8 359.7 527.2 362.1 527.5 366.3 C527.8 370.5 527.8 376.3 528.2 381.8 C528.6 387.3 529.1 394.3 529.6 398.5 C530.1 402.7 530.5 406.1 531.0 406.6 C531.5 406.6 531.9 403.4 532.4 401.3 C532.9 399.2 533.3 394.8 534.0 394.1 C534.7 394.1 535.6 395.3 536.6 397.1 C537.6 398.9 539.1 402.2 540.0 404.8 C540.9 407.4 541.5 412.0 542.1 412.5 C542.7 412.5 543.2 408.0 543.8 408.0 C544.4 408.2 544.8 412.1 545.6 413.9 C546.4 415.7 547.6 417.8 548.4 418.8 C549.2 419.8 549.8 419.9 550.5 419.9 C551.2 419.3 551.9 417.7 552.6 415.3 C553.3 412.9 554.1 409.3 554.7 405.5 C555.3 401.7 555.6 397.7 556.1 393.0 C556.6 388.3 557.1 383.2 557.5 377.6 C557.9 372.0 558.3 365.0 558.6 360.0 C558.9 355.0 559.0 352.1 559.3 348.0 C559.6 343.9 560.1 336.2 560.5 335.7 C560.9 335.7 561.3 342.4 561.7 345.2 C562.1 348.0 562.2 351.9 562.6 351.9 C563.0 351.7 563.4 347.1 564.0 343.8 C564.6 340.5 565.4 336.8 565.9 332.6 C566.4 328.4 566.6 324.3 567.0 318.9 C567.4 313.5 567.6 305.3 568.2 300.7 C568.8 296.1 569.7 293.5 570.3 291.7 C570.9 290.0 571.2 290.0 571.7 290.0 C572.2 290.8 572.6 292.4 573.1 296.6 C573.6 300.8 573.9 309.7 574.5 314.7 C575.1 319.7 575.8 326.1 576.4 326.3 C577.0 326.3 577.5 320.9 578.0 316.1 C578.5 311.3 578.8 302.9 579.3 297.9 C579.8 292.9 580.4 289.0 581.0 286.8 C581.6 285.0 582.2 285.0 582.8 285.0 C583.4 285.6 584.1 289.0 584.7 290.3 C585.3 291.6 585.7 290.8 586.3 292.4 C586.9 294.0 587.8 296.4 588.4 300.0 C589.0 303.6 589.4 309.8 589.8 313.3 C590.2 316.8 590.4 320.3 590.8 320.3 C591.2 319.3 591.5 311.2 591.9 307.7 C592.3 304.2 592.8 300.8 593.3 300.0 C593.8 300.0 594.4 300.1 595.0 302.8 C595.6 305.5 596.3 312.6 596.8 316.1 C597.3 319.6 597.5 323.1 597.9 323.1 C598.3 322.4 598.7 314.7 599.2 311.9 C599.7 309.1 600.2 307.2 601.0 306.6 C601.8 306.6 602.8 308.4 603.8 308.4 C604.8 308.3 605.8 307.2 606.6 306.3 C607.4 305.4 607.8 303.1 608.4 303.1 C609.0 303.2 609.6 304.1 610.1 307.0 C610.6 309.9 610.9 316.4 611.3 320.0 C611.7 323.6 611.9 326.6 612.4 328.4 C612.9 330.2 613.6 329.5 614.1 330.5 C614.6 331.5 615.0 332.0 615.5 334.0 C616.0 336.0 616.8 342.4 617.3 342.4 C617.8 342.4 618.1 337.0 618.5 334.0 C618.9 331.0 619.1 326.3 619.7 324.9 C620.3 324.9 621.3 325.4 622.0 325.9 C622.7 326.4 623.2 327.7 623.9 327.7 C624.6 327.0 625.5 323.4 626.2 321.7 C626.9 320.0 627.1 319.0 628.3 317.5 C629.5 316.0 632.1 314.3 633.2 312.6 C634.3 310.9 634.0 308.9 634.6 307.7 C635.2 306.5 635.9 306.0 636.7 305.6 C637.5 305.6 638.7 305.6 639.4 305.6 C640.1 304.5 640.6 300.5 641.1 299.3 C641.6 298.6 641.8 299.3 642.2 298.6 C642.6 297.2 643.4 292.5 643.6 291.2"/>
</g>
<path d="M255.7 97.3 L258.3 86.6" stroke="#000" stroke-width="0.9" fill="none"/><path d="M259.5 81.3 L261.0 87.2 L255.5 85.9 Z" fill="#000"/>
<path d="M262.3 243.8 L266.0 230.8" stroke="#000" stroke-width="0.9" fill="none"/><path d="M267.5 225.6 L268.7 231.6 L263.3 230.0 Z" fill="#000"/>
<path d="M347.3 232.6 L350.9 219.2" stroke="#000" stroke-width="0.9" fill="none"/><path d="M352.3 214.0 L353.6 219.9 L348.2 218.5 Z" fill="#000"/>
<path d="M487.3 371.5 L490.5 358.3" stroke="#000" stroke-width="0.9" fill="none"/><path d="M491.8 353.1 L493.2 359.0 L487.8 357.7 Z" fill="#000"/>
<path d="M488.2 146.8 L497.8 116.4" stroke="#000" stroke-width="0.9" fill="none"/><path d="M499.4 111.2 L500.5 117.2 L495.1 115.5 Z" fill="#000"/>
<path d="M552.5 319.2 L582.7 268.2" stroke="#000" stroke-width="0.9" fill="none"/><path d="M584.9 264.4 L584.3 269.2 L581.0 267.2 Z" fill="#000"/>
<g font-family="'Liberation Sans', Arial, sans-serif" font-size="8.05" fill="#000" stroke="#000" stroke-width="0.25" text-rendering="geometricPrecision" text-anchor="middle">
<text transform="translate(190.6 111.1) scale(1 1.04)">3455</text>
<text transform="translate(254.1 104.2) scale(1 1.04)">2972</text>
<text transform="translate(459.5 192.7) scale(1 1.04)">1646</text>
<text transform="translate(487.9 157.1) scale(1 1.04)">1341</text>
<text transform="translate(543.5 175.7) scale(1 1.04)">1160</text>
<text transform="translate(191.6 245.1) scale(1 1.04)">3427</text>
<text transform="translate(253.1 254.2) scale(1 1.04)">2921</text>
<text transform="translate(342.9 243.8) scale(1 1.04)">2351</text>
<text transform="translate(458.8 250.1) scale(1 1.04)">1633</text>
<text transform="translate(498.2 246.2) scale(1 1.04)">1361</text>
<text transform="translate(528.4 276.9) scale(1 1.04)">1149</text>
<text transform="translate(594.3 261.1) scale(1 1.04)">1020</text>
<text transform="translate(193.0 425.2) scale(1 1.04)">3409</text>
<text transform="translate(267.6 378.1) scale(1 1.04)">2930</text>
<text transform="translate(351.3 328.8) scale(1 1.04)">2360</text>
<text transform="translate(455.0 359.0) scale(1 1.04)">1646</text>
<text transform="translate(486.4 384.1) scale(1 1.04)">1373</text>
<text transform="translate(527.9 416.7) scale(1 1.04)">1158</text>
<text transform="translate(564.7 419.1) scale(1 1.04)">1031</text>
</g>
<rect x="601.1" y="358" width="184.9" height="60.4" fill="#fff" stroke="#222" stroke-width="1"/>
<g stroke-width="0.75" fill="none"><path stroke="#1818ff" d="M619.8 371.4 H651.8"/><path stroke="#ff1a1a" d="M619.8 390.4 H651.8"/><path stroke="#111" stroke-width="1" d="M619.8 410 H651.8"/></g>
<g font-family="'Liberation Sans', Arial, sans-serif" font-size="14.2" fill="#000" stroke="#000" stroke-width="0.2" text-rendering="geometricPrecision">
<text x="652.3" y="376.0">Pinostrobin</text>
<text x="652.3" y="395.5">Pinostrobin-<tspan dx="1.1">HP</tspan><tspan font-family="'Liberation Serif', 'DejaVu Serif', serif">β</tspan>CD</text>
<text x="652.3" y="414.9">HP<tspan font-family="'Liberation Serif', 'DejaVu Serif', serif">β</tspan>CD</text>
</g>
</svg>
</body></html>
